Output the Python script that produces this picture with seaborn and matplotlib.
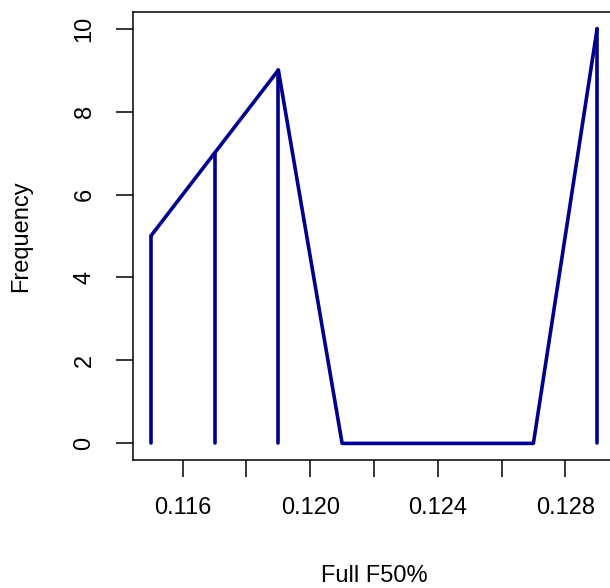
import matplotlib
matplotlib.use('Agg')
from matplotlib import pyplot as plt
import pandas as pd
import seaborn as sns

# data
f50 = [0.115, 0.117, 0.119, 0.121, 0.123, 0.125, 0.127, 0.129]
freq = [5, 7, 9, 0, 0, 0, 0, 10]
xticks = [0.116, 0.118, 0.120, 0.122, 0.124, 0.126, 0.128]
xticklabels = ['0.116', '', '0.120', '', '0.124', '', '0.128']
yticks = [0, 2, 4, 6, 8, 10]

df = pd.DataFrame({'f50': f50, 'freq': freq})

sns.set_style('white')
plt.rcParams['font.family'] = ['Liberation Sans', 'DejaVu Sans']
plt.rcParams['text.color'] = 'black'
plt.rcParams['axes.labelcolor'] = 'black'
plt.rcParams['xtick.color'] = 'black'
plt.rcParams['ytick.color'] = 'black'

fig = plt.figure(figsize=(6.1, 5.88), dpi=100)
ax = fig.add_axes([133 / 610, 128 / 588, (615 - 133) / 610, (460 - 12) / 588])

col = '#00008B'
sns.lineplot(data=df, x='f50', y='freq', ax=ax, color=col, linewidth=2.6,
             solid_capstyle='round', solid_joinstyle='round')
nz = df[df['freq'] > 0]
ax.vlines(nz['f50'], 0, nz['freq'], color=col, linewidth=2.6, capstyle='round')

xpad = (max(f50) - min(f50)) * 0.04
ax.set_xlim(min(f50) - xpad, max(f50) + xpad)
ax.set_ylim(-0.4, 10.4)

ax.set_xticks(xticks)
ax.set_xticklabels(xticklabels)
ax.set_yticks(yticks)
ax.set_yticklabels([str(v) for v in yticks], rotation=90, va='center')

ax.tick_params(axis='both', direction='out', length=12, width=1.1, color='black',
               labelcolor='black', labelsize=17, pad=15, left=True, bottom=True)
for s in ax.spines.values():
    s.set_color('black')
    s.set_linewidth(1.1)

ax.set_xlabel('Full F50%', fontsize=17, labelpad=33, color='black')
ax.set_ylabel('Frequency', fontsize=17, labelpad=30, color='black')

fig.savefig('out.png', dpi=100)
